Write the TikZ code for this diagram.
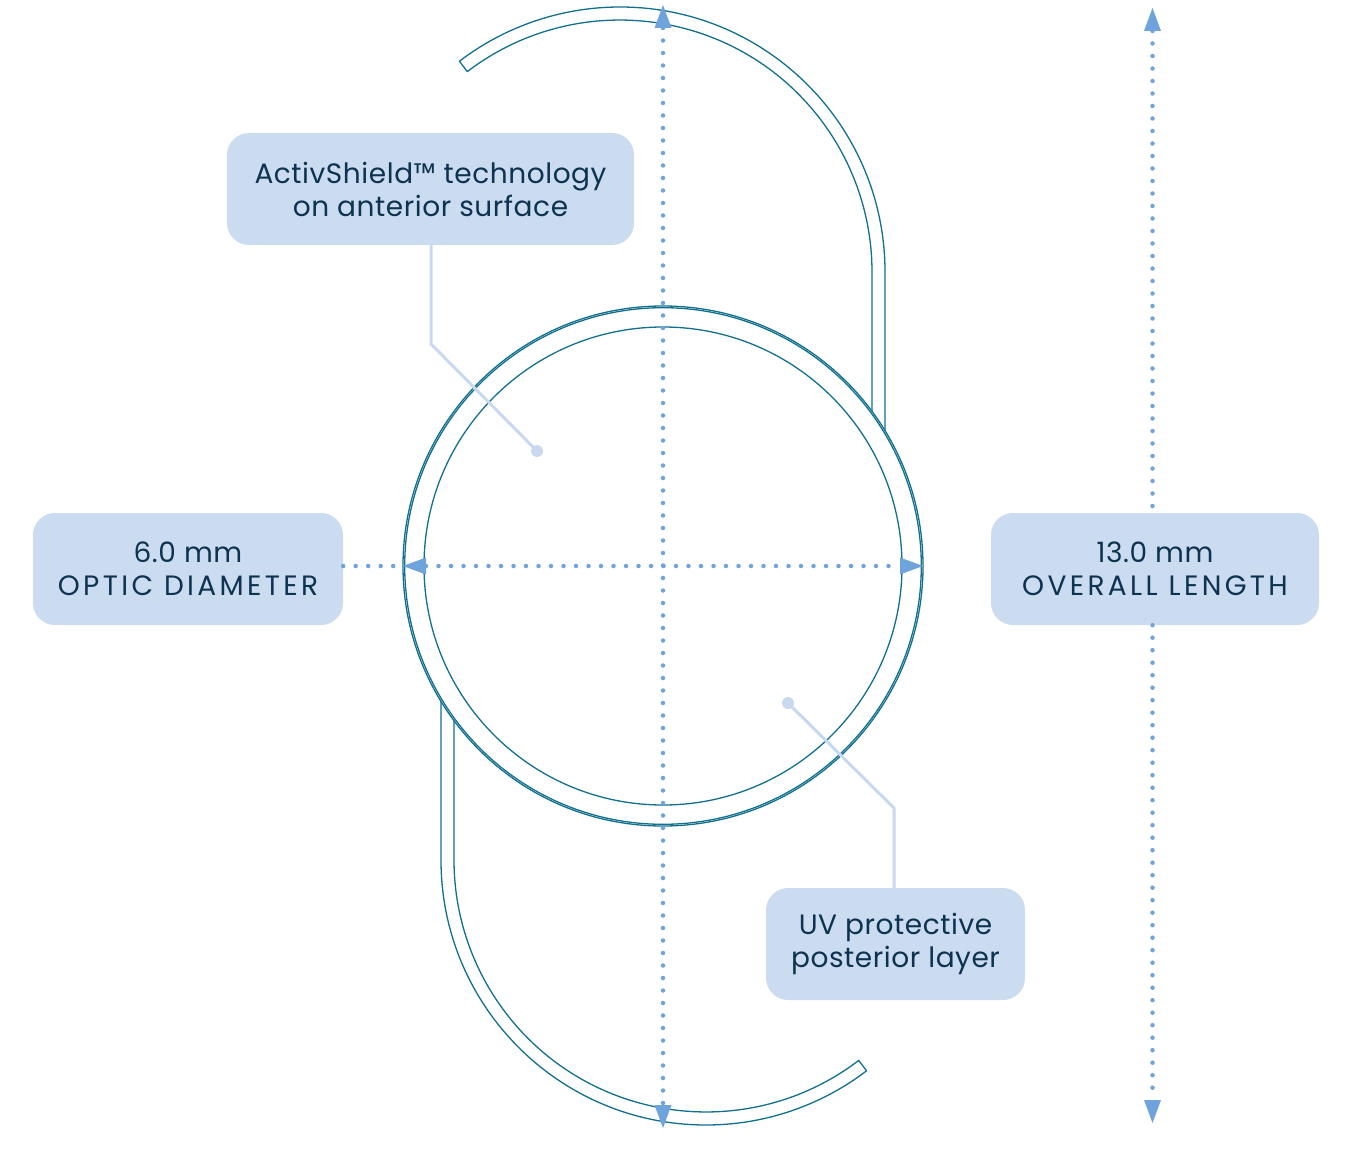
\documentclass[tikz,border=0pt]{standalone}
\usepackage{fontspec}
\setmainfont[LetterSpace=2]{Poppins}
\newfontfamily\capsfont[LetterSpace=12]{Poppins}
\usetikzlibrary{arrows.meta}
\definecolor{lensc}{HTML}{12708F}
\definecolor{dotc}{HTML}{6FA3DC}
\definecolor{boxc}{HTML}{CCDCF0}
\definecolor{leadc}{HTML}{C8D9EF}
\definecolor{txtc}{HTML}{0C3350}
\tikzset{
  lens/.style={draw=lensc, line width=1.3pt, line join=round},
  dots/.style={draw=dotc, line width=4.5pt, line cap=round, dash pattern=on 0pt off 12.5pt},
  tipa/.tip={Triangle[width=17pt,length=23pt,line width=0pt]},
  label/.style={fill=boxc, rounded corners=22pt, text=txtc, align=center,
    inner sep=0pt, font=\fontsize{28}{33}\selectfont},
  leader/.style={draw=leadc, line width=3pt},
  leaddot/.style={fill=leadc},
}
\begin{document}
\begin{tikzpicture}[x=1pt,y=-1pt]
\useasboundingbox[fill=white] (0,0) rectangle (1365,1150);
\coordinate (c) at (663,566);
% haptics
\draw[lens] (885,431) -- (885,272) arc[start angle=0, end angle=-127.3, radius=265]
  -- (467.3,71.6) arc[start angle=-127.3, end angle=0, radius=252] -- (872,411.3);
\begin{scope}[rotate around={180:(663,566)}]
\draw[lens] (885,431) -- (885,272) arc[start angle=0, end angle=-127.3, radius=265]
  -- (467.3,71.6) arc[start angle=-127.3, end angle=0, radius=252] -- (872,411.3);
\end{scope}
% optic
\draw[lens] (c) circle[radius=260];
\draw[lens] (c) circle[radius=258.3];
\draw[lens] (c) circle[radius=239];
% boxes
\node[label, minimum width=407pt, minimum height=112pt] (act) at (430.5,189)
  {ActivShield™ technology\\on anterior surface};
\node[label, minimum width=310pt, minimum height=112pt] (opt) at (188,569)
  {6.0 mm\\{\capsfont OPTIC DIAMETER}};
\node[label, minimum width=328pt, minimum height=112pt] (ovl) at (1155,569)
  {13.0 mm\\{\capsfont OVERALL LENGTH}};
\node[label, minimum width=259pt, minimum height=112pt] (uv) at (895.5,944)
  {UV protective\\posterior layer};
% dimension lines
\coordinate (vt) at (663,5);
\coordinate (vb) at (663,1128);
\coordinate (hl) at (403,566);
\coordinate (hr) at (923,566);
\coordinate (rt) at (1152.5,8);
\coordinate (rb) at (1152.5,1123);
\draw[dots, tipa-tipa] (vt) -- (vb);
\draw[dots] (opt.east |- hl) -- (hl);
\draw[dots, tipa-tipa] (hl) -- (hr);
\draw[dots, tipa-] (rt) -- (ovl.north -| rt);
\draw[dots, -tipa] (ovl.south -| rt) -- (rb);
% leaders
\coordinate (b1) at (431,344);
\coordinate (d1) at (537,451);
\coordinate (d2) at (788,703);
\coordinate (b2) at (894,808);
\draw[leader] (act.south -| b1) -- (b1) -- (d1);
\fill[leaddot] (d1) circle[radius=6];
\draw[leader] (d2) -- (b2) -- (b2 |- uv.north);
\fill[leaddot] (d2) circle[radius=6];
\end{tikzpicture}
\end{document}
